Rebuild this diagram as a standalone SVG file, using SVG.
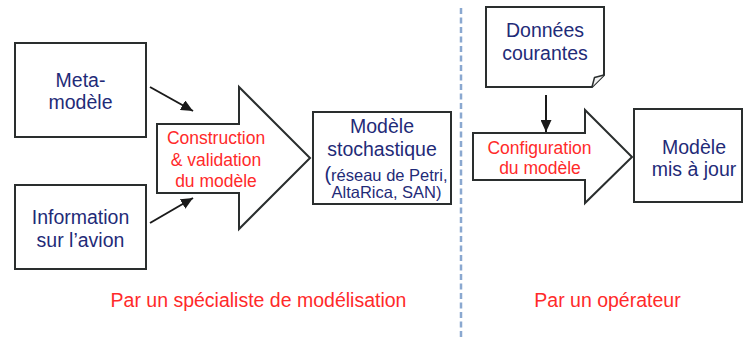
<svg xmlns="http://www.w3.org/2000/svg" width="744" height="342" viewBox="0 0 744 342">
<style>
.box{fill:#fff;stroke:#2a2e2e;stroke-width:2}
.t{font-family:"Liberation Sans",Arial,sans-serif;font-size:19.5px;fill:#1f2b78;text-anchor:middle}
.s{font-size:16.5px}
.r{font-family:"Liberation Sans",Arial,sans-serif;font-size:17.5px;fill:#ff2a2a;text-anchor:middle}
.b{font-family:"Liberation Sans",Arial,sans-serif;font-size:19.5px;fill:#ff2a2a;text-anchor:middle}
.c{stroke:#1a1a1a;stroke-width:2;fill:none}
</style>
<defs>
<marker id="ah" markerUnits="userSpaceOnUse" markerWidth="13" markerHeight="11" refX="12" refY="5.5" orient="auto">
<path d="M0,0 L12,5.5 L0,11 z" fill="#1a1a1a"/>
</marker>
</defs>
<rect width="744" height="342" fill="#fff"/>
<line x1="461" y1="8" x2="461" y2="338" stroke="#8aa8d0" stroke-width="2.5" stroke-dasharray="6 3.5"/>
<g id="meta">
<rect class="box" x="15" y="43" width="131" height="94"/>
<text class="t" x="80.5" y="87">Meta-</text>
<text class="t" x="80.5" y="109">modèle</text>
</g>
<g id="info">
<rect class="box" x="15" y="185" width="131" height="84"/>
<text class="t" x="80.5" y="224">Information</text>
<text class="t" x="80.5" y="247">sur l’avion</text>
</g>
<g id="construction">
<path class="box" d="M157,124 H239 V87 L310,158 L239,229 V193 H157 Z"/>
<text class="r" x="216" y="144">Construction</text>
<text class="r" x="216" y="165.5">&amp; validation</text>
<text class="r" x="216" y="186.5">du modèle</text>
</g>
<g id="stochastique">
<rect class="box" x="313" y="112" width="138" height="92"/>
<text class="t" x="382" y="133">Modèle</text>
<text class="t" x="382" y="156">stochastique</text>
<text class="t s" x="386" y="181"><tspan font-size="20">(</tspan>réseau de Petri,</text>
<text class="t s" x="386.5" y="198">AltaRica, SAN)</text>
</g>
<g id="donnees">
<path class="box" d="M486,7 H604 V75 L592,87 H486 Z"/>
<path d="M592,87 L594.5,77.5 L604,75" fill="#f2f2f2" stroke="#2a2e2e" stroke-width="1.5" stroke-linejoin="round"/>
<text class="t" x="545" y="37">Données</text>
<text class="t" x="545" y="60">courantes</text>
</g>
<g id="configuration">
<path class="box" d="M473,133 H585 V110 L632,157 L585,203 V180 H473 Z"/>
<text class="r" x="539.5" y="154">Configuration</text>
<text class="r" x="540" y="174">du modèle</text>
</g>
<g id="misajour">
<rect class="box" x="634" y="109" width="108" height="93"/>
<text class="t" x="694" y="154">Modèle</text>
<text class="t" x="694" y="176">mis à jour</text>
</g>
<g id="connectors">
<line class="c" x1="150" y1="87" x2="193" y2="111" marker-end="url(#ah)"/>
<line class="c" x1="150" y1="223" x2="193" y2="198" marker-end="url(#ah)"/>
<line class="c" x1="546" y1="95" x2="546" y2="132" marker-end="url(#ah)"/>
</g>
<g id="labels">
<text class="b" x="258.5" y="307">Par un spécialiste de modélisation</text>
<text class="b" x="607.5" y="307">Par un opérateur</text>
</g>
</svg>
